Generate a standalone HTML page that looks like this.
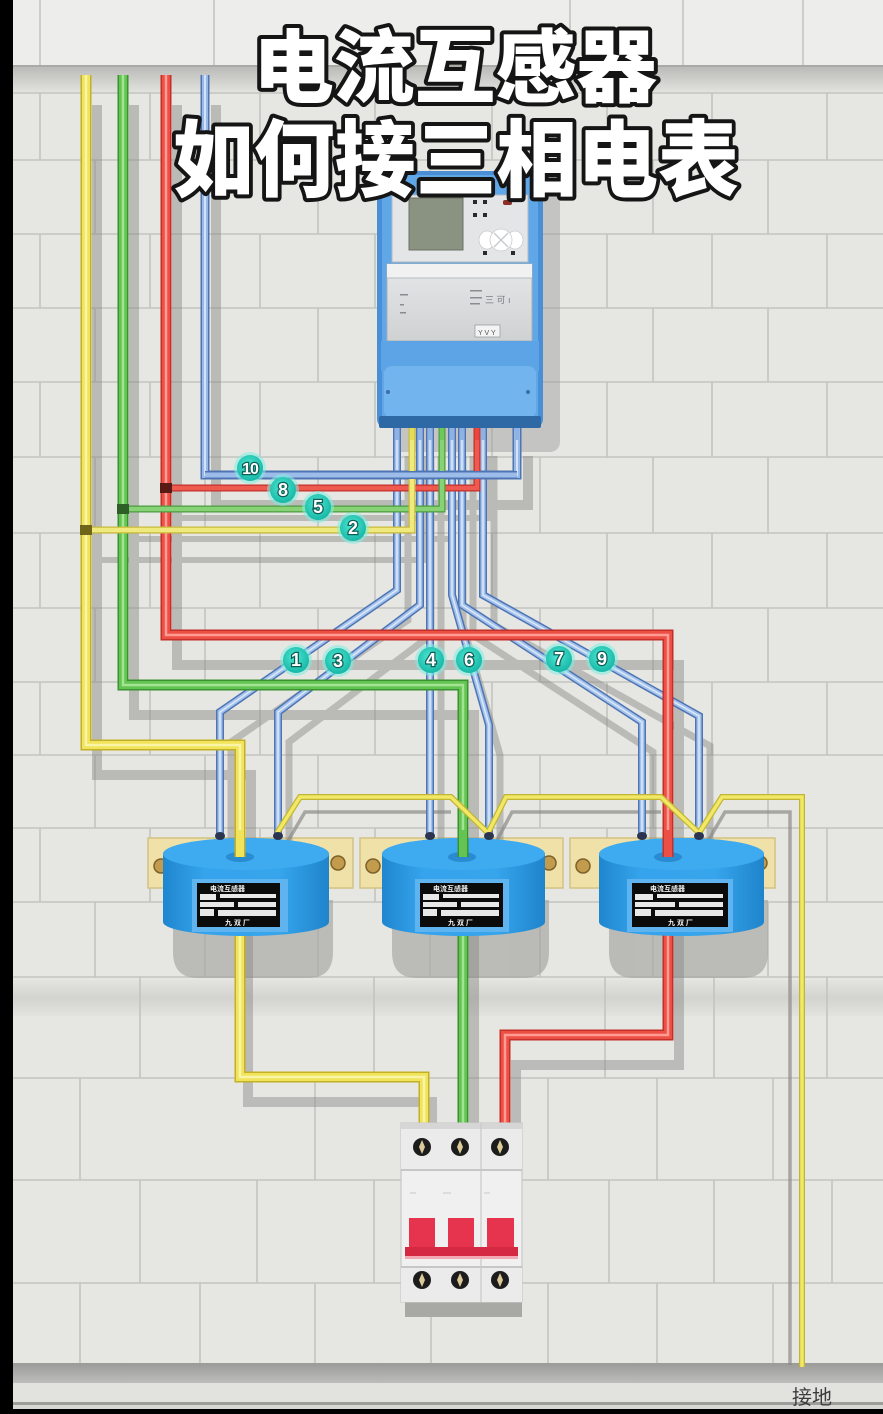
<!DOCTYPE html>
<html><head><meta charset="utf-8">
<style>
html,body{margin:0;padding:0;background:#000;}
svg{display:block;}
</style></head>
<body>
<svg width="883" height="1414" viewBox="0 0 883 1414" xmlns="http://www.w3.org/2000/svg">
<defs>
 <linearGradient id="ledge" x1="0" y1="0" x2="0" y2="1">
  <stop offset="0" stop-color="#b9b9b6"/>
  <stop offset="1" stop-color="#e3e3e0"/>
 </linearGradient>
 <linearGradient id="band" x1="0" y1="0" x2="0" y2="1">
  <stop offset="0" stop-color="#e3e3e0"/>
  <stop offset="0.5" stop-color="#d3d3d0"/>
  <stop offset="1" stop-color="#e2e2df"/>
 </linearGradient>
 <linearGradient id="floor" x1="0" y1="0" x2="0" y2="1">
  <stop offset="0" stop-color="#9a9a98"/>
  <stop offset="1" stop-color="#bdbdba"/>
 </linearGradient>
 <linearGradient id="ctg" x1="0" y1="0" x2="1" y2="0">
  <stop offset="0" stop-color="#1f86cf"/>
  <stop offset="0.25" stop-color="#35a4ec"/>
  <stop offset="0.7" stop-color="#36a5ec"/>
  <stop offset="1" stop-color="#1f84cc"/>
 </linearGradient>
 <radialGradient id="lbl" cx="0.45" cy="0.4" r="0.6">
  <stop offset="0" stop-color="#4fe6d4"/>
  <stop offset="1" stop-color="#17b8a6"/>
 </radialGradient>
 <linearGradient id="cover" x1="0" y1="0" x2="0" y2="1">
  <stop offset="0" stop-color="#e6e7e8"/>
  <stop offset="1" stop-color="#cfd1d3"/>
 </linearGradient>

 <path id="PY1" d="M86,75 V745 H240 V900" fill="none"/>
 <path id="PY2" d="M240,900 V1077 H424 V1128" fill="none"/>
 <path id="PG" d="M123,75 V685 H463 V1128" fill="none"/>
 <path id="PR" d="M166,75 V635 H668 V1035 H505 V1128" fill="none"/>
 <path id="PB" d="M205,75 V475 H517 V426" fill="none"/>
 <path id="TR" d="M166,488 H477 V426" fill="none"/>
 <path id="TG" d="M123,509 H442 V426" fill="none"/>
 <path id="TY" d="M86,530 H412 V426" fill="none"/>
 <path id="F1" d="M397,426 V590 L220,712 V835" fill="none"/>
 <path id="F3" d="M420,426 V605 L278,712 V835" fill="none"/>
 <path id="F4" d="M430,426 V835" fill="none"/>
 <path id="F6" d="M452,426 V595 L489,725 V835" fill="none"/>
 <path id="F7" d="M462,426 V605 L642,722 V835" fill="none"/>
 <path id="F9" d="M483,426 V595 L699,716 V835" fill="none"/>
 <path id="BY" d="M277,833 L300,797 H451 L488,833 L506,797 H661 L699,833 L722,797 H802 V1367" fill="none"/>
</defs>

<!-- wall -->
<rect x="0" y="0" width="883" height="1414" fill="#e6e6e3"/>
<rect x="0" y="0" width="883" height="66" fill="#ededeb"/>
<rect x="0" y="66" width="883" height="27" fill="url(#ledge)"/>
<rect x="0" y="980" width="883" height="36" fill="url(#band)"/>
<g stroke="#c3c3bf" stroke-width="1.6" fill="none">
 <path d="M0,160H883M0,234H883M0,308H883M0,382H883M0,457H883M0,533H883M0,608H883M0,682H883M0,755H883M0,828H883M0,902H883M0,977H883M0,1078H883M0,1180H883M0,1283H883M0,1403H883M0,93H883"/>
 <path d="M40,0V66M214,0V66M570,0V66M683,0V66M803,0V66
 M40,93V160M150,93V160M260,93V160M375,93V160M492,93V160M607,93V160M712,93V160M827,93V160
 M95,160V234M205,160V234M318,160V234M430,160V234M540,160V234M653,160V234M768,160V234
 M40,234V308M150,234V308M260,234V308M375,234V308M492,234V308M607,234V308M712,234V308M827,234V308
 M95,308V382M205,308V382M318,308V382M430,308V382M540,308V382M653,308V382M768,308V382
 M40,382V457M150,382V457M260,382V457M375,382V457M492,382V457M607,382V457M712,382V457M827,382V457
 M95,457V533M205,457V533M318,457V533M430,457V533M540,457V533M653,457V533M768,457V533
 M40,533V608M150,533V608M260,533V608M375,533V608M492,533V608M607,533V608M712,533V608M827,533V608
 M95,608V682M205,608V682M318,608V682M430,608V682M540,608V682M653,608V682M768,608V682
 M40,682V755M150,682V755M260,682V755M375,682V755M492,682V755M607,682V755M712,682V755M827,682V755
 M95,755V828M205,755V828M318,755V828M430,755V828M540,755V828M653,755V828M768,755V828
 M40,828V902M150,828V902M260,828V902M375,828V902M492,828V902M607,828V902M712,828V902M827,828V902
 M95,902V977M205,902V977M318,902V977M430,902V977M540,902V977M653,902V977M768,902V977
 M140,977V1078M374,977V1078M605,977V1078M714,977V1078M827,977V1078
 M80,1078V1180M315,1078V1180M548,1078V1180M657,1078V1180M773,1078V1180
 M140,1180V1283M257,1180V1283M374,1180V1283M609,1180V1283M714,1180V1283M832,1180V1283
 M80,1283V1363M200,1283V1363M315,1283V1363M431,1283V1363M548,1283V1363M657,1283V1363M773,1283V1363
 M70,1383V1403M190,1383V1403M309,1383V1403M431,1383V1403M553,1383V1403M666,1383V1403M790,1383V1403"/>
</g>
<line x1="0" y1="66" x2="883" y2="66" stroke="#a9a9a6" stroke-width="2"/>
<!-- floor -->
<rect x="0" y="1363" width="883" height="20" fill="url(#floor)"/>
<rect x="0" y="1383" width="883" height="20" fill="#e2e2df"/>
<rect x="0" y="1402" width="883" height="3" fill="#9d9d9a"/>
<rect x="0" y="1405" width="883" height="4" fill="#d8d8d5"/>
<rect x="0" y="1409" width="883" height="5" fill="#000"/>

<!-- meter shadow -->
<rect x="393" y="186" width="167" height="266" rx="10" fill="#9b9b98" opacity="0.45"/>

<!-- CT shadows & brackets -->
<g fill="#a4a4a1" opacity="0.65">
 <path d="M173,900 H333 V952 Q333,978 308,978 H198 Q173,978 173,952 Z"/>
 <path d="M392,900 H549 V952 Q549,978 524,978 H417 Q392,978 392,952 Z"/>
 <path d="M609,900 H768 V952 Q768,978 743,978 H634 Q609,978 609,952 Z"/>
</g>
<g fill="#efe1a8" stroke="#d3c283" stroke-width="1.5">
 <rect x="148" y="838" width="205" height="50"/>
 <rect x="360" y="838" width="203" height="50"/>
 <rect x="570" y="838" width="205" height="50"/>
</g>
<g fill="#c29b4c" stroke="#7d612b" stroke-width="1.5">
 <circle cx="161" cy="866" r="7"/><circle cx="338" cy="863" r="7"/>
 <circle cx="373" cy="866" r="7"/><circle cx="549" cy="863" r="7"/>
 <circle cx="583" cy="866" r="7"/><circle cx="760" cy="863" r="7"/>
</g>

<!-- wire shadows -->
<g transform="translate(11,30)" stroke="#878784" stroke-width="10" fill="none" opacity="0.45">
 <use href="#PY1"/><use href="#PG"/><use href="#PR"/><use href="#PB"/>
 <use href="#TR" stroke-width="6"/><use href="#TG" stroke-width="6"/><use href="#TY" stroke-width="6"/>
 <use href="#F1" stroke-width="7"/><use href="#F3" stroke-width="7"/><use href="#F4" stroke-width="7"/>
 <use href="#F6" stroke-width="7"/><use href="#F7" stroke-width="7"/><use href="#F9" stroke-width="7"/>
</g>
<g transform="translate(8,25)" stroke="#878784" stroke-width="10" fill="none" opacity="0.45">
 <use href="#PY2"/>
</g>
<g stroke="#8a8a87" stroke-width="3.5" fill="none" opacity="0.7">
 <path d="M285,846 L305,812 H451 M494,846 L512,812 H661 M705,846 L725,812 H790 V1365"/>
</g>

<!-- blue fan wires -->
<g fill="none" stroke-linejoin="miter">
 <g stroke="#4f74b3" stroke-width="8">
  <use href="#F1"/><use href="#F3"/><use href="#F4"/><use href="#F6"/><use href="#F7"/><use href="#F9"/>
 </g>
 <g stroke="#a3c2ec" stroke-width="5">
  <use href="#F1"/><use href="#F3"/><use href="#F4"/><use href="#F6"/><use href="#F7"/><use href="#F9"/>
 </g>
 <g stroke="#dbe8f8" stroke-width="1.5">
  <use href="#F1"/><use href="#F3"/><use href="#F4"/><use href="#F6"/><use href="#F7"/><use href="#F9"/>
 </g>
</g>

<!-- main wires -->
<g fill="none" stroke-linejoin="miter">
 <use href="#PB" stroke="#4f74b3" stroke-width="9"/>
 <use href="#PB" stroke="#98b9e8" stroke-width="6"/>
 <use href="#PB" stroke="#d3e3f7" stroke-width="2"/>

 <use href="#PR" stroke="#c2302a" stroke-width="11"/>
 <use href="#PR" stroke="#ee4f45" stroke-width="8"/>
 <use href="#PR" stroke="#ff9c93" stroke-width="2.5"/>

 <use href="#PG" stroke="#3a9231" stroke-width="11"/>
 <use href="#PG" stroke="#64c453" stroke-width="8"/>
 <use href="#PG" stroke="#a3e492" stroke-width="2.5"/>

 <use href="#PY1" stroke="#c2b126" stroke-width="11"/>
 <use href="#PY1" stroke="#f1e45a" stroke-width="8"/>
 <use href="#PY1" stroke="#faf4a8" stroke-width="2.5"/>
 <use href="#PY2" stroke="#c2b126" stroke-width="11"/>
 <use href="#PY2" stroke="#f1e45a" stroke-width="8"/>
 <use href="#PY2" stroke="#faf4a8" stroke-width="2.5"/>

 <!-- taps -->
 <use href="#TR" stroke="#c2302a" stroke-width="7"/>
 <use href="#TR" stroke="#ef5a50" stroke-width="4.5"/>
 <use href="#TG" stroke="#4c9c40" stroke-width="7"/>
 <use href="#TG" stroke="#86d274" stroke-width="4.5"/>
 <use href="#TY" stroke="#c9bb3a" stroke-width="7"/>
 <use href="#TY" stroke="#efe97e" stroke-width="4.5"/>
 <path d="M205,475 H517" stroke="#4f74b3" stroke-width="8"/>
 <path d="M205,475 H517" stroke="#9cbdea" stroke-width="5"/>
</g>
<g fill="#5a1a14">
 <rect x="160" y="483" width="12" height="10"/>
</g>
<g fill="#2d5f26"><rect x="117" y="504" width="12" height="10"/></g>
<g fill="#6f6518"><rect x="80" y="525" width="12" height="10"/></g>

<!-- CT bodies -->
<g>
 <path d="M163,854 A83,16 0 0 1 329,854 V922 A83,14 0 0 1 163,922 Z" fill="url(#ctg)"/>
 <ellipse cx="246" cy="854" rx="83" ry="16" fill="#3eaaf0"/>
 <ellipse cx="240" cy="857" rx="14" ry="5" fill="#2a8bd0"/>
 <path d="M382,854 A81.5,16 0 0 1 545,854 V922 A81.5,14 0 0 1 382,922 Z" fill="url(#ctg)"/>
 <ellipse cx="463.5" cy="854" rx="81.5" ry="16" fill="#3eaaf0"/>
 <ellipse cx="462" cy="857" rx="14" ry="5" fill="#2a8bd0"/>
 <path d="M599,854 A82.5,16 0 0 1 764,854 V922 A82.5,14 0 0 1 599,922 Z" fill="url(#ctg)"/>
 <ellipse cx="681.5" cy="854" rx="82.5" ry="16" fill="#3eaaf0"/>
 <ellipse cx="668" cy="857" rx="14" ry="5" fill="#2a8bd0"/>
</g>
<!-- CT labels -->
<g>
 <rect x="192" y="879" width="96" height="53" fill="#5fb4ef"/>
 <rect x="197" y="883" width="83" height="44" fill="#0b0b0b"/>
 <rect x="415" y="879" width="94" height="53" fill="#5fb4ef"/>
 <rect x="420" y="883" width="83" height="44" fill="#0b0b0b"/>
 <rect x="627" y="879" width="106" height="53" fill="#5fb4ef"/>
 <rect x="632" y="883" width="96" height="44" fill="#0b0b0b"/>
 <g fill="#f2f2f2" font-family="'Liberation Sans','Noto Sans CJK SC',sans-serif" font-size="7" font-weight="700">
  <text x="210" y="891">电流互感器</text><text x="433" y="891">电流互感器</text><text x="650" y="891">电流互感器</text>
  <text x="225" y="925">九 双 厂</text><text x="448" y="925">九 双 厂</text><text x="668" y="925">九 双 厂</text>
 </g>
 <g fill="#e8e8e8">
  <rect x="200" y="894" width="16" height="6"/><rect x="220" y="894" width="56" height="4"/>
  <rect x="200" y="902" width="34" height="5"/><rect x="238" y="902" width="38" height="5"/>
  <rect x="200" y="909" width="14" height="7"/><rect x="218" y="910" width="58" height="6"/>
  <rect x="423" y="894" width="16" height="6"/><rect x="443" y="894" width="56" height="4"/>
  <rect x="423" y="902" width="34" height="5"/><rect x="461" y="902" width="38" height="5"/>
  <rect x="423" y="909" width="14" height="7"/><rect x="441" y="910" width="58" height="6"/>
  <rect x="635" y="894" width="18" height="6"/><rect x="657" y="894" width="66" height="4"/>
  <rect x="635" y="902" width="40" height="5"/><rect x="679" y="902" width="44" height="5"/>
  <rect x="635" y="909" width="16" height="7"/><rect x="655" y="910" width="68" height="6"/>
 </g>
</g>

<!-- wire tops entering CT holes -->
<g fill="none">
 <path d="M240,830 V857" stroke="#c2b126" stroke-width="11"/>
 <path d="M240,830 V857" stroke="#f1e45a" stroke-width="8"/>
 <path d="M463,830 V857" stroke="#3a9231" stroke-width="11"/>
 <path d="M463,830 V857" stroke="#64c453" stroke-width="8"/>
 <path d="M668,830 V857" stroke="#c2302a" stroke-width="11"/>
 <path d="M668,830 V857" stroke="#ee4f45" stroke-width="8"/>
</g>

<!-- yellow bond / ground wire -->
<g fill="none" stroke-linejoin="miter">
 <use href="#BY" stroke="#c2b533" stroke-width="6"/>
 <use href="#BY" stroke="#f0e866" stroke-width="3.5"/>
</g>
<!-- CT terminals -->
<g fill="#2b3550">
 <ellipse cx="220" cy="836" rx="5" ry="4"/><ellipse cx="278" cy="836" rx="5" ry="4"/>
 <ellipse cx="430" cy="836" rx="5" ry="4"/><ellipse cx="489" cy="836" rx="5" ry="4"/>
 <ellipse cx="642" cy="836" rx="5" ry="4"/><ellipse cx="699" cy="836" rx="5" ry="4"/>
</g>

<!-- breaker -->
<g>
 <rect x="405" y="1302" width="117" height="15" fill="#a8a8a5"/>
 <rect x="401" y="1123" width="121" height="179" fill="#f0f0f0" stroke="#c8c8c8" stroke-width="1.2"/>
 <rect x="401" y="1123" width="121" height="6" fill="#d6d6d6"/>
 <rect x="401" y="1129" width="121" height="41" fill="#ebebeb"/>
 <rect x="401" y="1267" width="121" height="35" fill="#ebebeb"/>
 <line x1="401" y1="1170" x2="522" y2="1170" stroke="#b9b9b9" stroke-width="1.5"/>
 <line x1="401" y1="1267" x2="522" y2="1267" stroke="#b9b9b9" stroke-width="1.5"/>
 <line x1="481" y1="1123" x2="481" y2="1302" stroke="#c9c9c9" stroke-width="1.2"/>
 <g stroke="#c8c8c8" stroke-width="1"><path d="M410,1193h6M443,1193h8M484,1193h6"/></g>
 <g fill="#1c1c1c">
  <circle cx="422" cy="1147" r="9"/><circle cx="460" cy="1147" r="9"/><circle cx="500" cy="1147" r="9"/>
  <circle cx="422" cy="1280" r="9"/><circle cx="460" cy="1280" r="9"/><circle cx="500" cy="1280" r="9"/>
 </g>
 <g fill="#dccb98">
  <path d="M422,1140 L425,1147 L422,1154 L419,1147 Z M460,1140 L463,1147 L460,1154 L457,1147 Z M500,1140 L503,1147 L500,1154 L497,1147 Z"/>
  <path d="M422,1273 L425,1280 L422,1287 L419,1280 Z M460,1273 L463,1280 L460,1287 L457,1280 Z M500,1273 L503,1280 L500,1287 L497,1280 Z"/>
 </g>
 <rect x="409" y="1218" width="26" height="32" fill="#e6344e"/>
 <rect x="448" y="1218" width="26" height="32" fill="#e6344e"/>
 <rect x="487" y="1218" width="27" height="32" fill="#e6344e"/>
 <rect x="405" y="1247" width="113" height="9" fill="#d52943"/>
 <rect x="405" y="1256" width="113" height="3" fill="#f2a9b4"/>
</g>

<!-- meter -->
<g>
 <rect x="377" y="171" width="166" height="257" rx="9" fill="#4a8fd5"/>
 <rect x="382" y="175" width="156" height="246" rx="6" fill="#60a7e8"/>
 <rect x="392" y="195" width="136" height="67" fill="#e3e5e7" stroke="#b5bac0" stroke-width="1"/>
 <rect x="409" y="198" width="54" height="52" fill="#8a9282" stroke="#6c7367" stroke-width="1"/>
 <g fill="#2a2a2a">
  <rect x="473" y="200" width="4" height="4"/><rect x="483" y="200" width="4" height="4"/>
  <rect x="473" y="213" width="4" height="4"/><rect x="483" y="213" width="4" height="4"/>
  <rect x="483" y="251" width="4" height="4"/><rect x="511" y="251" width="4" height="4"/>
 </g>
 <rect x="503" y="200" width="9" height="5" rx="2" fill="#8c2f2a"/>
 <g fill="#ffffff" stroke="#c9ccd0" stroke-width="0.8">
  <ellipse cx="487" cy="240" rx="8" ry="9"/>
  <ellipse cx="515" cy="240" rx="8" ry="9"/>
  <circle cx="501" cy="240" r="11"/>
 </g>
 <path d="M494,233 L508,247 M508,233 L494,247" stroke="#c4c7cb" stroke-width="1.3"/>
 <rect x="387" y="264" width="145" height="77" fill="url(#cover)" stroke="#a9aeb4" stroke-width="1"/>
 <rect x="387" y="264" width="145" height="14" fill="#f1f1f2"/>
 <line x1="387" y1="278" x2="532" y2="278" stroke="#b8bcc0" stroke-width="1"/>
 <g fill="#8a8d90"><rect x="400" y="294" width="8" height="1.5"/><rect x="400" y="304" width="4" height="1.5"/><rect x="400" y="312" width="6" height="1.5"/>
 <rect x="470" y="290" width="12" height="1.5"/><rect x="470" y="297" width="12" height="1.5"/><rect x="470" y="303" width="10" height="1.5"/></g>
 <text x="485" y="303" font-family="'Liberation Sans','Noto Sans CJK SC',sans-serif" font-size="9" fill="#7a7d80">三 可 ı</text>
 <rect x="475" y="325" width="25" height="12" fill="#f4f4f4" stroke="#9a9ea3" stroke-width="0.8"/>
 <text x="478" y="335" font-family="'Liberation Sans',sans-serif" font-size="7" fill="#555">Y V Y</text>
 <rect x="381" y="341" width="158" height="30" fill="#5da4e6"/>
 <rect x="384" y="366" width="152" height="52" rx="8" fill="#72b4ee"/>
 <circle cx="388" cy="392" r="2" fill="#3a6fa8"/><circle cx="528" cy="392" r="2" fill="#3a6fa8"/>
 <rect x="379" y="416" width="162" height="12" rx="2" fill="#2e68a5"/>
</g>
<!-- meter terminal stubs -->
<g stroke-width="4">
 <line x1="397" y1="428" x2="397" y2="440" stroke="#8fb2e4"/>
 <line x1="412" y1="428" x2="412" y2="440" stroke="#e6dc58"/>
 <line x1="420" y1="428" x2="420" y2="440" stroke="#8fb2e4"/>
 <line x1="430" y1="428" x2="430" y2="440" stroke="#8fb2e4"/>
 <line x1="442" y1="428" x2="442" y2="440" stroke="#6cc95a"/>
 <line x1="452" y1="428" x2="452" y2="440" stroke="#8fb2e4"/>
 <line x1="462" y1="428" x2="462" y2="440" stroke="#8fb2e4"/>
 <line x1="477" y1="428" x2="477" y2="440" stroke="#e9473e"/>
 <line x1="483" y1="428" x2="483" y2="440" stroke="#8fb2e4"/>
 <line x1="517" y1="428" x2="517" y2="440" stroke="#8fb2e4"/>
</g>

<!-- number labels -->
<g>
 <g fill="#7ff0e2" opacity="0.55">
  <circle cx="250" cy="468" r="16"/><circle cx="283" cy="490" r="16"/><circle cx="318" cy="507" r="16"/><circle cx="353" cy="528" r="16"/>
  <circle cx="296" cy="660" r="16"/><circle cx="338" cy="661" r="16"/><circle cx="431" cy="660" r="16"/><circle cx="469" cy="660" r="16"/>
  <circle cx="559" cy="659" r="16"/><circle cx="602" cy="659" r="16"/>
 </g>
 <g fill="url(#lbl)">
  <circle cx="250" cy="468" r="13"/><circle cx="283" cy="490" r="13"/><circle cx="318" cy="507" r="13"/><circle cx="353" cy="528" r="13"/>
  <circle cx="296" cy="660" r="13"/><circle cx="338" cy="661" r="13"/><circle cx="431" cy="660" r="13"/><circle cx="469" cy="660" r="13"/>
  <circle cx="559" cy="659" r="13"/><circle cx="602" cy="659" r="13"/>
 </g>
 <g font-family="'Liberation Sans',sans-serif" font-size="18" font-weight="700" fill="#ffffff" stroke="#0d5f56" stroke-width="2.5" paint-order="stroke" text-anchor="middle">
  <text x="250" y="474" font-size="16" letter-spacing="-1">10</text>
  <text x="283" y="496">8</text><text x="318" y="513">5</text><text x="353" y="534">2</text>
  <text x="296" y="666">1</text><text x="338" y="667">3</text><text x="431" y="666">4</text><text x="469" y="666">6</text>
  <text x="559" y="665">7</text><text x="602" y="665">9</text>
 </g>
</g>

<!-- ground label -->
<text x="792" y="1404" font-family="'Liberation Sans','Noto Sans CJK SC',sans-serif" font-size="20" fill="#3c3c3c">接地</text>

<!-- title -->
<g font-family="'Liberation Sans','Noto Sans CJK SC',sans-serif" font-weight="900" fill="#ffffff" stroke="#151515" stroke-width="8" stroke-linejoin="round" paint-order="stroke">
 <text x="253" y="96" font-size="80" textLength="404" lengthAdjust="spacingAndGlyphs">电流互感器</text>
 <text x="173" y="190" font-size="84" textLength="566" lengthAdjust="spacingAndGlyphs">如何接三相电表</text>
</g>

<!-- left black strip -->
<rect x="0" y="0" width="13" height="1414" fill="#000"/>
</svg>
</body></html>
